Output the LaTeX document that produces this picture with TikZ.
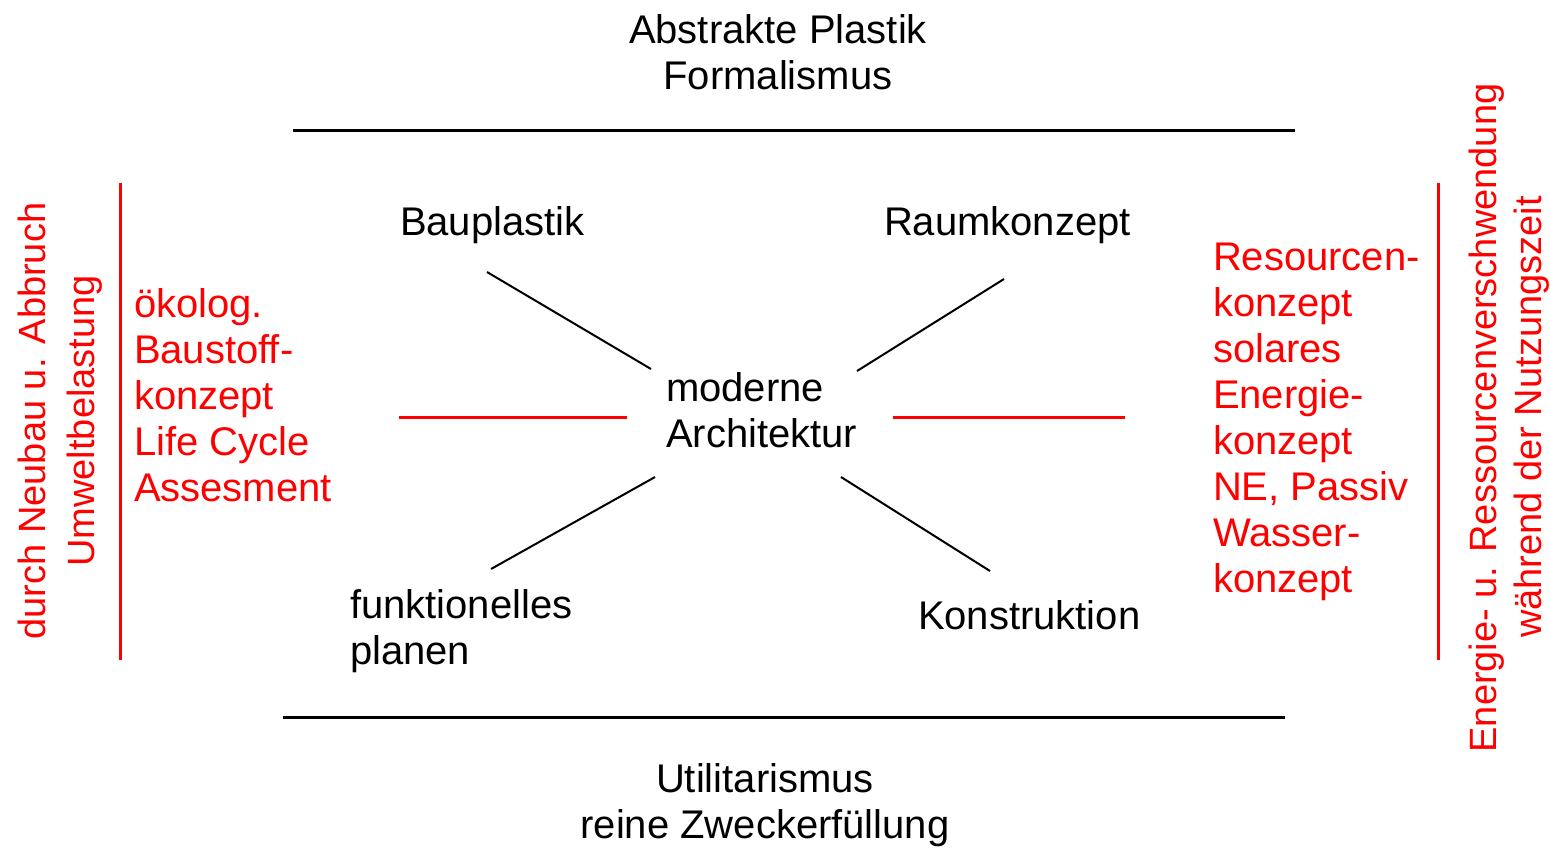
\documentclass[tikz,border=0pt]{standalone}
\usepackage{fontspec}
\setmainfont{Liberation Sans}
\usetikzlibrary{calc, positioning}
\definecolor{signalrot}{HTML}{FF0000}
\definecolor{tinte}{HTML}{000000}

\begin{document}
\begin{tikzpicture}[x=0.5pt, y=-0.5pt,
  every node/.style={font=\fontsize{20}{23}\selectfont, inner sep=0pt, outer sep=0pt},
  begriff/.style={anchor=base west, align=left, text=tinte},
  oeko/.style={anchor=base west, align=left, text=signalrot},
  achse/.style={anchor=base, align=center, text=tinte},
  randtext/.style={anchor=base, rotate=90, text=signalrot, font=\fontsize{19}{23}\selectfont},
  strahl/.style={tinte, line width=1pt},
  rotlinie/.style={signalrot, line width=1.5pt}]

  % === RAHMEN ===
  \path[use as bounding box, fill=white] (0,0) rectangle (1550,847);

  % === OBEN / UNTEN ===
  % (base = Grundlinie der letzten Zeile)
  \node[achse] (abstrakt) at (778,89) {Abstrakte Plastik\\Formalismus};
  \node[achse] (utilit) at (765,838) {Utilitarismus\\reine Zweckerfüllung};
  \draw[tinte, line width=1.5pt] (293,130) -- (1295,130);
  \draw[tinte, line width=1.5pt] (283,717) -- (1285,717);

  % === MITTE ===
  \node[begriff] (mod) at (666,447) {moderne\\Architektur};
  \node[begriff] (bau) at (400,235) {Bauplastik};
  \node[begriff] (raum) at (884,235) {Raumkonzept};
  \node[begriff] (funk) at (350,664) {funktionelles\\planen};
  \node[begriff] (konst) at (918,629) {Konstruktion};

  % Strahlen zum Zentrum
  \draw[strahl] ($(bau.base west)+(87,37)$) -- ($(mod.base west)+(-15,-78)$);
  \draw[strahl] ($(raum.base west)+(120,44)$) -- ($(mod.base west)+(191,-76)$);
  \draw[strahl] ($(funk.base west)+(141,-95)$) -- ($(mod.base west)+(-11,30)$);
  \draw[strahl] ($(konst.base west)+(72,-58)$) -- ($(mod.base west)+(175,30)$);

  % === LINKS : Umwelt ===
  \node[oeko] (bauoeko) at (134,501) {ökolog.\\Baustoff-\\konzept\\Life Cycle\\Assesment};
  \node[randtext] (abbruch) at (45,421) {durch Neubau u. Abbruch};
  \node[randtext] (umwelt) at (94,421) {Umweltbelastung};
  \draw[rotlinie] (120,183) -- (120,660);
  \draw[rotlinie] ($(bauoeko.base west)+(265,-84)$) -- ($(mod.base west)+(-39,-30)$);

  % === RECHTS : Energie ===
  \node[oeko] (ressource) at (1213,592) {Resourcen-\\konzept\\solares\\Energie-\\konzept\\NE, Passiv\\Wasser-\\konzept};
  \node[randtext] (energie) at (1496,418) {Energie- u. Ressourcenverschwendung};
  \node[randtext] (nutzung) at (1541,417) {während der Nutzungszeit};
  \draw[rotlinie] (1438,183) -- (1438,660);
  \draw[rotlinie] ($(mod.base west)+(227,-30)$) -- ($(ressource.base west)+(-88,-175)$);

\end{tikzpicture}
\end{document}
